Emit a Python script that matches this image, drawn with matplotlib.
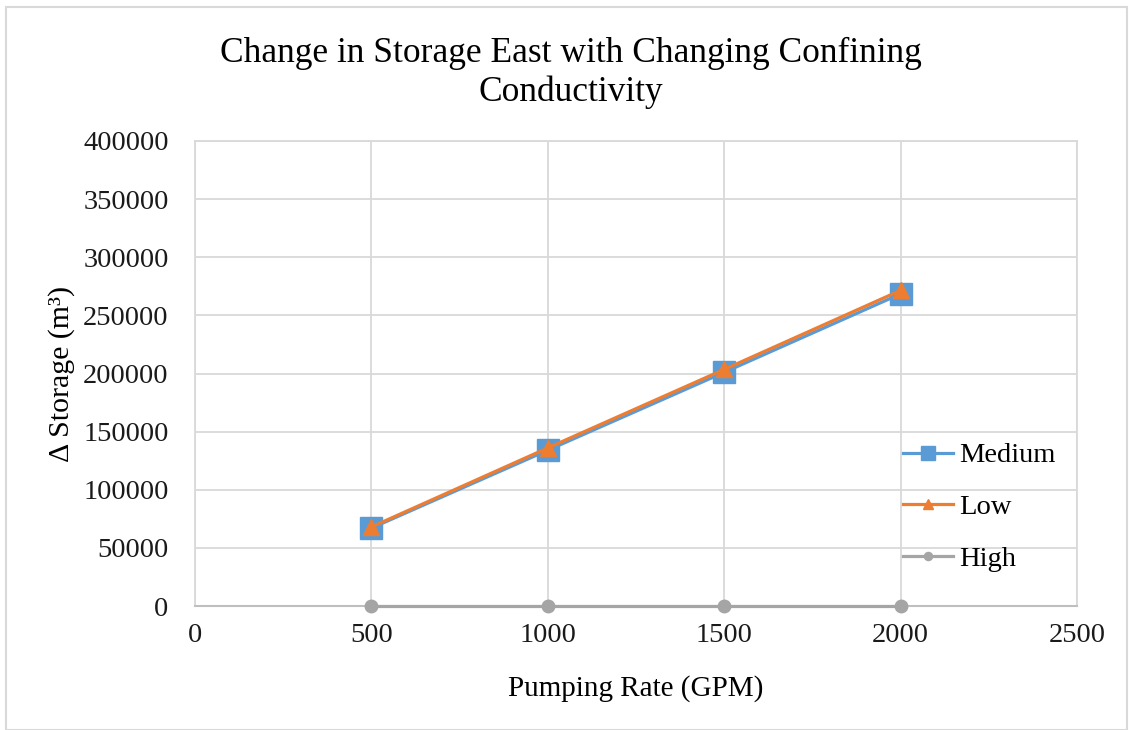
import matplotlib
matplotlib.use("Agg")
import matplotlib.pyplot as plt
from matplotlib.patches import Rectangle

# Pumping rates (GPM) and change in storage (m^3) for each confining conductivity
pumping_rate = [500, 1000, 1500, 2000]
medium = [67000, 134000, 201000, 268500]
low = [68000, 136000, 203500, 271500]
high = [0, 0, 0, 0]

x_ticks = [0, 500, 1000, 1500, 2000, 2500]
y_ticks = [0, 50000, 100000, 150000, 200000, 250000, 300000, 350000, 400000]

plt.rcParams['font.family'] = ['Liberation Serif', 'DejaVu Serif']

fig = plt.figure(figsize=(11.3, 7.3), dpi=100)
ax = fig.add_axes([195 / 1130, 1 - 606 / 730, (1077 - 195) / 1130, (606 - 141) / 730])

grid_c = '#d9d9d9'
ax.plot(pumping_rate, medium, color='#5B9BD5', lw=2.3, marker='s', ms=16,
        label='Medium', zorder=3)
ax.plot(pumping_rate, low, color='#ED7D31', lw=2.3, marker='^', ms=12,
        label='Low', zorder=4)
ax.plot(pumping_rate, high, color='#A5A5A5', lw=2.3, marker='o', ms=9,
        label='High', zorder=5, clip_on=False)

ax.set_xlim(0, 2500)
ax.set_ylim(0, 400000)
ax.set_xticks(x_ticks)
ax.set_yticks(y_ticks)
ax.tick_params(axis='both', length=0, labelsize=20.5, colors='#1a1a1a')
ax.tick_params(axis='y', pad=19)
ax.tick_params(axis='x', pad=12)
ax.grid(True, color=grid_c, lw=1.3)
ax.set_axisbelow(True)
for side in ['top', 'right', 'left']:
    ax.spines[side].set_color(grid_c)
    ax.spines[side].set_linewidth(1.3)
ax.spines['bottom'].set_color('#bfbfbf')
ax.spines['bottom'].set_linewidth(1.5)

ax.set_xlabel('Pumping Rate (GPM)', fontsize=21, labelpad=20)
ax.set_ylabel('Δ Storage (m³)', fontsize=21.5, labelpad=6)

fig.text(0.505, 0.900, 'Change in Storage East with Changing Confining\nConductivity',
         ha='center', va='center', fontsize=25.5, linespacing=1.2)

leg = ax.legend(loc='upper left', bbox_to_anchor=(0.79, 0.376), frameon=False,
                fontsize=20.5, handlelength=1.75, handletextpad=0.2, labelspacing=0.9,
                markerscale=0.65, borderaxespad=0)

# outer chart border
fig.patches.append(Rectangle((6 / 1130, 0), 1 - 9 / 1130, 1 - 7 / 730,
                             transform=fig.transFigure, fill=False,
                             edgecolor='#d9d9d9', lw=1.5))

fig.savefig('out.png', dpi=100)
